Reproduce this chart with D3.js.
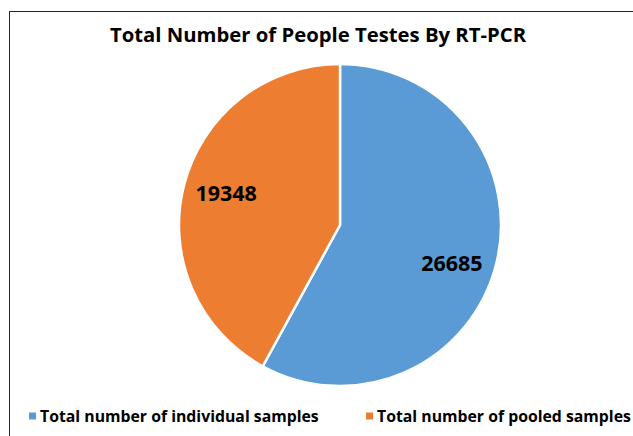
<!DOCTYPE html>
<html>
<head>
<meta charset="utf-8">
<script src="https://cdn.jsdelivr.net/npm/d3@7"></script>
<style>
  body { margin: 0; background: #fff; }
  svg { display: block; font-family: "Open Sans", Lato, sans-serif; }
</style>
</head>
<body>
<svg id="chart" width="633" height="436"></svg>
<script>
// chart data
var categories = ['Total number of individual samples', 'Total number of pooled samples'];
var values = [26685, 19348];
var colors = ['#5B9BD5', '#ED7D31'];
var title = 'Total Number of People Testes By RT-PCR';

var svg = d3.select('#chart');
var cx = 340, cy = 225, radius = 161;

// chart frame (runs off the right and bottom of the picture)
svg.append('rect')
  .attr('x', 9.5).attr('y', 11.5)
  .attr('width', 700).attr('height', 500)
  .attr('fill', '#fff')
  .attr('stroke', '#262626')
  .attr('stroke-width', 1);

svg.append('text')
  .attr('x', 318).attr('y', 42)
  .attr('text-anchor', 'middle')
  .attr('font-size', 20.3)
  .attr('font-weight', 'bold')
  .attr('fill', '#000')
  .text(title);

var pie = d3.pie().sort(null).value(function(d) { return d; });
var arcs = pie(values);
var arc = d3.arc().innerRadius(0).outerRadius(radius);
var labelArc = d3.arc().innerRadius(radius * 0.73).outerRadius(radius * 0.73);
// excel nudges its labels a little off the centroid
var labelNudge = [[-2, 9], [0, -3]];

var g = svg.append('g').attr('transform', 'translate(' + cx + ',' + cy + ')');

g.selectAll('path.slice')
  .data(arcs)
  .enter().append('path')
  .attr('class', 'slice')
  .attr('d', arc)
  .attr('fill', function(d, i) { return colors[i]; })
  .attr('stroke', '#fff')
  .attr('stroke-width', 2.5)
  .attr('stroke-linejoin', 'miter');

g.selectAll('text.lbl')
  .data(arcs)
  .enter().append('text')
  .attr('class', 'lbl')
  .attr('transform', function(d, i) {
    var c = labelArc.centroid(d);
    return 'translate(' + (c[0] + labelNudge[i][0]) + ',' + (c[1] + labelNudge[i][1]) + ')';
  })
  .attr('text-anchor', 'middle')
  .attr('dy', '0.36em')
  .attr('font-size', 21.5)
  .attr('font-weight', 'bold')
  .attr('fill', '#000')
  .text(function(d) { return d.data; });

// legend
var legendX = [29, 366];
var leg = svg.selectAll('g.leg')
  .data(categories)
  .enter().append('g')
  .attr('class', 'leg')
  .attr('transform', function(d, i) { return 'translate(' + legendX[i] + ',416)'; });

leg.append('rect')
  .attr('x', 0).attr('y', -3.5)
  .attr('width', 7).attr('height', 7)
  .attr('fill', function(d, i) { return colors[i]; });

leg.append('text')
  .attr('x', 11).attr('y', 6)
  .attr('font-size', 15.8)
  .attr('font-weight', 'bold')
  .attr('fill', '#000')
  .text(function(d) { return d; });
</script>
</body>
</html>
